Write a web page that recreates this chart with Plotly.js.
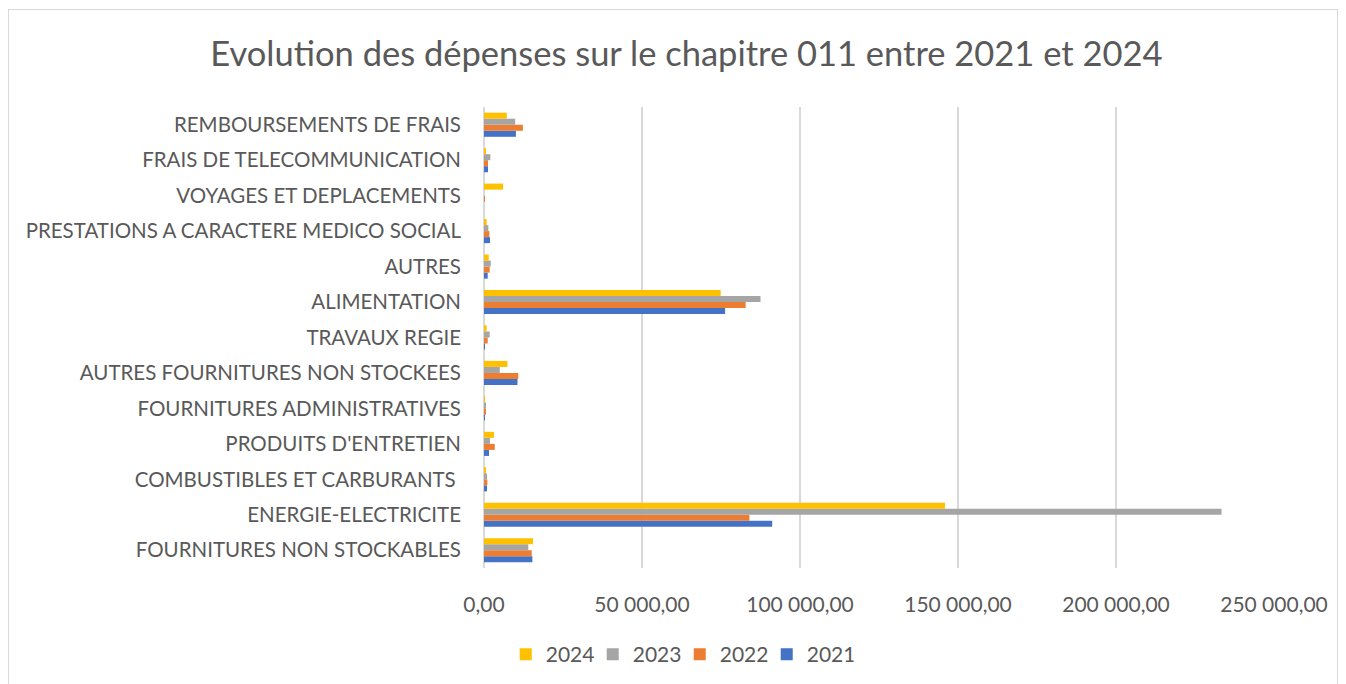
<!DOCTYPE html>
<html>
<head>
<meta charset="utf-8">
<script src="https://cdn.plot.ly/plotly-3.0.1.min.js"></script>
<style>
  html, body { margin: 0; padding: 0; background: #ffffff; }
  #chart { width: 1346px; height: 684px; position: absolute; left: 0; top: 0; }
  #frame { position: absolute; left: 8px; top: 9px; width: 1330px; height: 690px; border: 1px solid #d9d9d9; pointer-events: none; box-sizing: border-box; }
</style>
</head>
<body>
<div id="chart"></div>
<div id="frame"></div>
<script>
// Categories listed bottom to top
const categories = [
  "FOURNITURES NON STOCKABLES",
  "ENERGIE-ELECTRICITE",
  "COMBUSTIBLES ET CARBURANTS ",
  "PRODUITS D'ENTRETIEN",
  "FOURNITURES ADMINISTRATIVES",
  "AUTRES FOURNITURES NON STOCKEES",
  "TRAVAUX REGIE",
  "ALIMENTATION",
  "AUTRES",
  "PRESTATIONS A CARACTERE MEDICO SOCIAL",
  "VOYAGES ET DEPLACEMENTS",
  "FRAIS DE TELECOMMUNICATION",
  "REMBOURSEMENTS DE FRAIS"
];

const values2021 = [15300, 91200, 960, 1590, 200, 10600, 200, 76300, 1170, 1900, 0, 1270, 10100];
const values2022 = [15100, 84000, 1060, 3400, 540, 10850, 1170, 82800, 1800, 1700, 300, 1270, 12300];
const values2023 = [14000, 233400, 960, 1900, 540, 5000, 1800, 87500, 2130, 1380, 0, 2000, 9870];
const values2024 = [15500, 145900, 420, 3180, 200, 7420, 850, 74900, 1490, 850, 6050, 640, 7220];

const seriesNames = ["2021", "2022", "2023", "2024"];
const seriesColors = ["#4472C4", "#ED7D31", "#A5A5A5", "#FFC000"];
const seriesValues = [values2021, values2022, values2023, values2024];

const xTickValues = [0, 50000, 100000, 150000, 200000, 250000];

const traces = seriesNames.map((name, i) => ({
  type: 'bar',
  orientation: 'h',
  name: name,
  y: categories,
  x: seriesValues[i],
  marker: { color: seriesColors[i] },
  hoverinfo: 'x+y+name'
}));

const layout = {
  width: 1346,
  height: 684,
  paper_bgcolor: '#ffffff',
  plot_bgcolor: '#ffffff',
  separators: ', ',
  font: { family: 'Lato, "Liberation Sans", sans-serif', color: '#595959', size: 20 },
  title: {
    text: 'Evolution des dépenses sur le chapitre 011 entre 2021 et 2024',
    font: { size: 34.5, color: '#595959', family: 'Lato, "Liberation Sans", sans-serif' },
    x: 0.51, xanchor: 'center', xref: 'container',
    y: 52, yref: 'container', yanchor: 'middle'
  },
  margin: { l: 484, r: 72, t: 107, b: 116 },
  barmode: 'group',
  bargap: 0.32,
  bargroupgap: 0,
  xaxis: {
    range: [0, 250000],
    tickvals: xTickValues,
    tickformat: ',.2f',
    showgrid: true,
    gridcolor: '#d9d9d9',
    gridwidth: 1.5,
    zeroline: true,
    zerolinecolor: '#d9d9d9',
    zerolinewidth: 1.5,
    showline: false,
    ticks: '',
    ticklabelstandoff: 22,
    tickfont: { size: 21, color: '#595959' }
  },
  yaxis: {
    type: 'category',
    categoryorder: 'array',
    categoryarray: categories,
    showgrid: false,
    zeroline: false,
    showline: false,
    ticks: '',
    ticklabelstandoff: 22,
    tickfont: { size: 20.5, color: '#595959' }
  },
  showlegend: true,
  legend: {
    orientation: 'h',
    traceorder: 'reversed',
    x: 0.505, xref: 'container', xanchor: 'center',
    y: 0.043, yref: 'container', yanchor: 'middle',
    font: { size: 21, color: '#595959' },
    itemwidth: 30,
    entrywidth: 42,
    entrywidthmode: 'pixels'
  }
};

Plotly.newPlot('chart', traces, layout, { displayModeBar: false, responsive: false });
</script>
</body>
</html>
